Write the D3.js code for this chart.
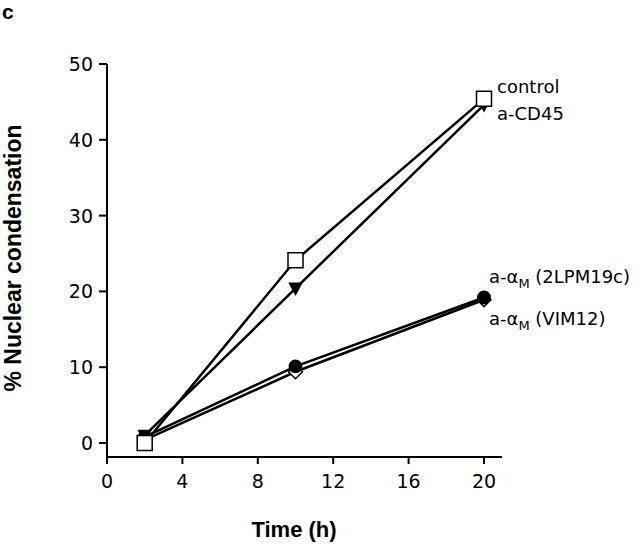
<!DOCTYPE html>
<html><head><meta charset="utf-8">
<script src="https://cdn.jsdelivr.net/npm/d3@7"></script>
<style>body{margin:0;background:#fff}svg{display:block}text{font-family:"DejaVu Sans",sans-serif;fill:#000}.b{font-family:"Liberation Sans",Arial,sans-serif;font-weight:bold}</style>
</head><body>
<svg id="c" width="640" height="544"></svg>
<script>
const times = [2, 10, 20];
const controlVals = [0, 24.1, 45.4];
const cd45Vals = [1.0, 20.4, 44.6];
const lpmVals = [0.8, 10.1, 19.2];
const vimVals = [0.4, 9.4, 18.9];
const xTicks = [0, 4, 8, 12, 16, 20];
const yTicks = [0, 10, 20, 30, 40, 50];

const svg = d3.select("#c");
const x = d3.scaleLinear().domain([0, 20]).range([107, 484]);
const y = d3.scaleLinear().domain([0, 50]).range([443, 64]);
const xLineEnd = 502, yLineBottom = 457;

svg.append("line").attr("x1",107).attr("x2",107).attr("y1",y(50)).attr("y2",yLineBottom+6).attr("stroke","#000").attr("stroke-width",2);
svg.append("line").attr("x1",107).attr("x2",xLineEnd).attr("y1",yLineBottom).attr("y2",yLineBottom).attr("stroke","#000").attr("stroke-width",2);
yTicks.forEach(t=>{
  svg.append("line").attr("x1",99).attr("x2",107).attr("y1",y(t)).attr("y2",y(t)).attr("stroke","#000").attr("stroke-width",2);
  svg.append("text").attr("x",93).attr("y",y(t)+7).attr("text-anchor","end").attr("font-size",19).text(t);
});
xTicks.forEach(t=>{
  svg.append("line").attr("x1",x(t)).attr("x2",x(t)).attr("y1",yLineBottom).attr("y2",yLineBottom+7).attr("stroke","#000").attr("stroke-width",2);
  svg.append("text").attr("x",x(t)).attr("y",488).attr("text-anchor","middle").attr("font-size",19).text(t);
});

svg.append("text").attr("class","b").attr("x",2).attr("y",19).attr("font-size",21).text("c");
svg.append("text").attr("class","b").attr("x",294).attr("y",537).attr("text-anchor","middle").attr("font-size",22).text("Time (h)");
svg.append("text").attr("class","b").attr("transform","translate(21,258) rotate(-90)").attr("text-anchor","middle").attr("font-size",23).text("% Nuclear condensation");

const line = d3.line().x((d,i)=>x(times[i])).y(d=>y(d));
const series = [
  {vals: vimVals, sym: "dia", fill:"#fff"},
  {vals: lpmVals, sym: "circ", fill:"#000"},
  {vals: cd45Vals, sym: "tri", fill:"#000"},
  {vals: controlVals, sym: "sq", fill:"#fff"}
];
series.forEach(s=>{
  svg.append("path").attr("d",line(s.vals)).attr("fill","none").attr("stroke","#000").attr("stroke-width",2.5);
});
const shapes = {
  dia: "M0,-7L7,0L0,7L-7,0Z",
  circ: d3.symbol().type(d3.symbolCircle).size(120)(),
  tri: "M-6,-5L6,-5L0,6Z",
  sq: "M-7.5,-7.5H7.5V7.5H-7.5Z"
};
series.forEach(s=>{
  s.vals.forEach((v,i)=>{
    svg.append("path").attr("transform",`translate(${x(times[i])},${y(v)})`)
      .attr("d",shapes[s.sym]).attr("fill",s.fill).attr("stroke","#000").attr("stroke-width",1.5);
  });
});

svg.append("text").attr("x",497).attr("y",93).attr("font-size",18).text("control");
svg.append("text").attr("x",497).attr("y",120).attr("font-size",18).text("a-CD45");
function amLabel(yb, suffix){
  const t = svg.append("text").attr("x",489).attr("y",yb).attr("font-size",18);
  t.append("tspan").text("a-α");
  t.append("tspan").attr("font-size",13).attr("dy",5).text("M");
  t.append("tspan").attr("dy",-5).text(" "+suffix);
}
amLabel(283, "(2LPM19c)");
amLabel(325, "(VIM12)");
</script>
</body></html>
